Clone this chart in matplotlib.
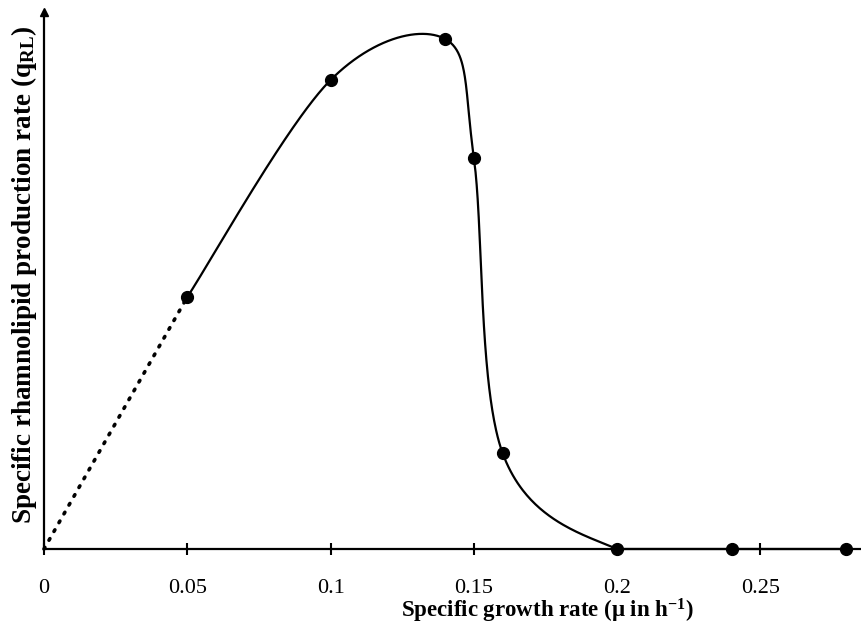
import numpy as np
import matplotlib
matplotlib.use("Agg")
import matplotlib.pyplot as plt

plt.rcParams["mathtext.fontset"] = "custom"
plt.rcParams["mathtext.rm"] = "Liberation Serif"
plt.rcParams["mathtext.bf"] = "Liberation Serif:bold"
plt.rcParams["mathtext.it"] = "Liberation Serif:italic"

# data (arbitrary y units)
mu = [0.05, 0.10, 0.14, 0.15, 0.16, 0.20, 0.24, 0.28]
q_rl = [2.52, 4.69, 5.10, 3.91, 0.96, 0.0, 0.0, 0.0]
extrap_x = [0.0, 0.05]
extrap_y = [0.0, 2.52]
xticks = [0, 0.05, 0.1, 0.15, 0.2, 0.25]
xticklabels = ["0", "0.05", "0.1", "0.15", "0.2", "0.25"]

def smooth(xs, ys, n=80):
    P = np.column_stack([xs, ys]).astype(float)
    out = []
    m = len(P)
    for i in range(m - 1):
        p0 = P[i - 1] if i > 0 else P[i]
        p1, p2 = P[i], P[i + 1]
        p3 = P[i + 2] if i + 2 < m else P[i + 1]
        c1 = p1 + (p2 - p0) / 6.0
        c2 = p2 - (p3 - p1) / 6.0
        t = np.linspace(0, 1, n)[:, None]
        seg = ((1 - t) ** 3) * p1 + 3 * ((1 - t) ** 2) * t * c1 + 3 * (1 - t) * t ** 2 * c2 + t ** 3 * p2
        out.append(seg if i == 0 else seg[1:])
    c = np.vstack(out)
    return c[:, 0], np.clip(c[:, 1], 0, None)

fig = plt.figure(figsize=(8.62, 6.24), dpi=100)
ax = fig.add_axes([44 / 862, 75 / 624, 818 / 862, 537 / 624])

sx, sy = smooth(mu, q_rl)
ax.plot(sx, sy, color="black", lw=1.6, zorder=3, clip_on=False)
ax.plot(mu, q_rl, "o", color="black", ms=8.5, zorder=4, clip_on=False)
ax.plot(extrap_x, extrap_y, color="black", lw=2.6, linestyle=(0, (0.5, 2.3)),
        dash_capstyle="round", zorder=3, clip_on=False)

ax.set_xlim(0, 818 / 2866)
ax.set_ylim(0, 5.37)

for s in ["top", "right"]:
    ax.spines[s].set_visible(False)
ax.spines["left"].set_linewidth(1.6)
ax.spines["bottom"].set_linewidth(1.6)
ax.plot(0, 1, marker="^", color="black", ms=6, transform=ax.transAxes, clip_on=False)

ax.set_yticks([])
ax.set_xticks(xticks)
ax.set_xticklabels(xticklabels, fontfamily="Liberation Serif", fontsize=16)
ax.tick_params(axis="x", direction="inout", length=9, width=1.5, pad=17)

fig.text(547 / 862, 1 - 611 / 624, "Specific growth rate (\u03bc in h$^{\\mathbf{-1}}$)",
         ha="center", va="center", fontfamily="Liberation Serif", fontweight="bold", fontsize=16.5)
fig.text(24 / 862, 1 - 275 / 624, "Specific rhamnolipid production rate (q$_{\\mathbf{RL}}$)",
         ha="center", va="center", rotation=90, fontfamily="Liberation Serif",
         fontweight="bold", fontsize=19.5)

fig.savefig("out.png", dpi=100)
